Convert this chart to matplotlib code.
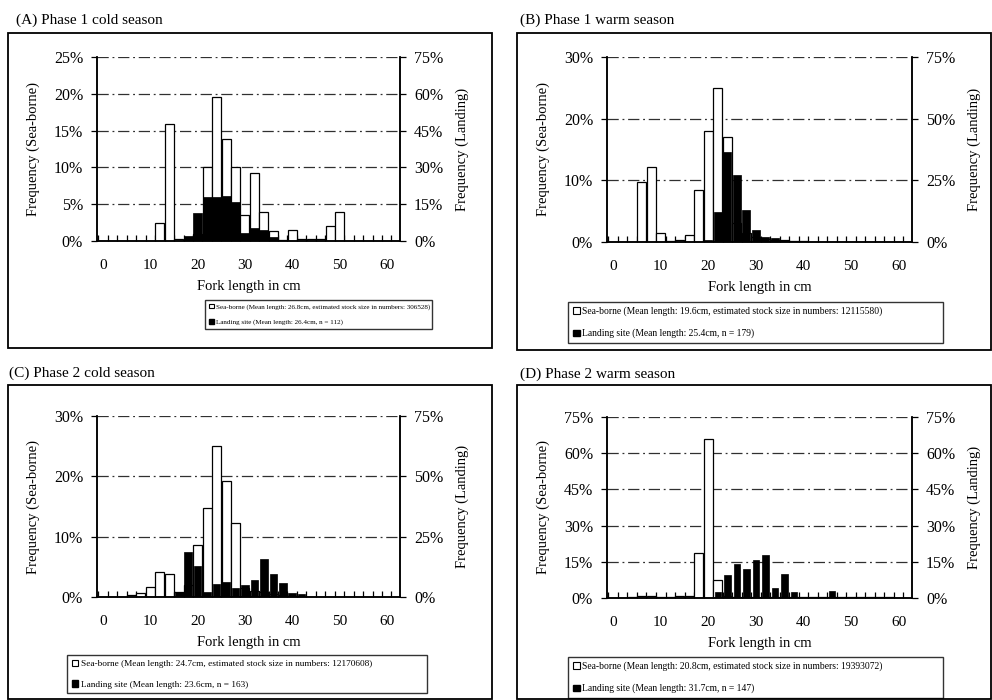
import matplotlib
matplotlib.use('Agg')
import matplotlib.pyplot as plt
from matplotlib.patches import Rectangle, Patch

plt.rcParams['font.family'] = ['Liberation Serif', 'DejaVu Serif']

# 2 cm length classes (bin centres, cm)
length_bins = [0, 2, 4, 6, 8, 10, 12, 14, 16, 18, 20, 22, 24, 26, 28, 30,
               32, 34, 36, 38, 40, 42, 44, 46, 48, 50, 52, 54, 56, 58, 60, 62]

# Frequencies in % per length class
sea_a = [0, 0, 0, 0, 0, 0, 2.4, 15.9, 0.3, 0.3, 1.0, 10.1, 19.6, 13.8, 10.0, 3.5,
         9.2, 4.0, 1.4, 0.2, 1.5, 0.3, 0.3, 0.3, 2.0, 4.0, 0, 0, 0, 0, 0, 0]
land_a = [0, 0, 0, 0, 0, 0, 0, 0, 0, 1.9, 11.3, 18.0, 18.0, 18.4, 16.0, 3.1,
          5.2, 4.6, 1.8, 0.6, 0, 0, 0, 0, 0, 0, 0, 0, 0, 0, 0, 0]

sea_b = [0, 0, 0, 9.8, 12.1, 1.4, 0.2, 0.4, 1.1, 8.5, 18.0, 24.9, 17.0, 3.0, 1.5, 0.8,
         0.5, 0.4, 0.3, 0.2, 0.1, 0, 0, 0, 0, 0, 0, 0, 0, 0, 0, 0]
land_b = [0, 0, 0, 0, 0, 0, 0, 0, 0, 0, 0.8, 12.0, 36.6, 27.0, 12.9, 4.8,
          2.0, 1.5, 0.8, 0.4, 0, 0, 0, 0, 0, 0, 0, 0, 0, 0, 0, 0]

sea_c = [0, 0, 0, 0.3, 0.6, 1.6, 4.1, 3.8, 0.8, 2.0, 8.6, 14.8, 25.1, 19.2, 12.2, 1.5,
         1.0, 0.8, 0.5, 0.3, 0.2, 0, 0, 0, 0, 0, 0, 0, 0, 0, 0, 0]
land_c = [0, 0, 0, 0, 0, 0, 0, 0, 2.2, 18.7, 12.8, 2.2, 5.5, 6.4, 3.9, 5.0,
          7.0, 15.6, 9.7, 5.9, 1.8, 1.1, 0, 0, 0, 0, 0, 0, 0, 0, 0, 0]

sea_d = [0, 0, 0.5, 0.8, 0.8, 0.5, 0.5, 0.8, 0.8, 18.7, 66.0, 7.3, 1.0, 0.5, 0.3, 0.3,
         0.3, 0.3, 0.3, 0.3, 0.5, 0.5, 0.3, 0.3, 0.3, 0.3, 0.3, 0.3, 0.3, 0.3, 0, 0]
land_d = [0, 0, 0, 0, 0, 0, 0, 0, 0, 0, 0, 2.4, 9.7, 14.1, 12.2, 15.9,
          18.0, 4.1, 9.9, 2.5, 0, 0, 0, 2.8, 0, 0, 0, 0, 0, 0, 0, 0]

titles = ['(A) Phase 1 cold season', '(B) Phase 1 warm season',
          '(C) Phase 2 cold season', '(D) Phase 2 warm season']
sea_ticks = [[0, 5, 10, 15, 20, 25], [0, 10, 20, 30], [0, 10, 20, 30], [0, 15, 30, 45, 60, 75]]
land_ticks = [[0, 15, 30, 45, 60, 75], [0, 25, 50, 75], [0, 25, 50, 75], [0, 15, 30, 45, 60, 75]]
sea_labels = [
    'Sea-borne (Mean length: 26.8cm, estimated stock size in numbers: 306528)',
    'Sea-borne (Mean length: 19.6cm, estimated stock size in numbers: 12115580)',
    'Sea-borne (Mean length: 24.7cm, estimated stock size in numbers: 12170608)',
    'Sea-borne (Mean length: 20.8cm, estimated stock size in numbers: 19393072)',
]
land_labels = [
    'Landing site (Mean length: 26.4cm, n = 112)',
    'Landing site (Mean length: 25.4cm, n = 179)',
    'Landing site (Mean length: 23.6cm, n = 163)',
    'Landing site (Mean length: 31.7cm, n = 147)',
]
sea_data = [sea_a, sea_b, sea_c, sea_d]
land_data = [land_a, land_b, land_c, land_d]

W, H = 992, 700


def fx(px):
    return px / W


def fy(py):
    return 1 - py / H


# layout in pixels: axes box, outer frame, title position, legend box, landing bar width
axes_px = [(97, 57, 400, 241), (607, 57, 912, 242), (97, 416, 400, 597), (607, 417, 912, 598)]
frame_px = [(8, 33, 492, 348), (517, 33, 991, 350), (8, 385, 492, 699), (517, 385, 991, 699)]
title_px = [(16, 20), (520, 20), (9, 373), (520, 374)]
legend_px = [(205, 300, 432, 341), (568, 302, 943, 342), (67, 655, 427, 696), (568, 657, 943, 697)]
legend_fs = [5.1, 6.9, 6.7, 6.9]
land_width = [1.95, 1.7, 1.6, 1.35]

grid_style = dict(color='#303030', lw=0.9, ls=(0, (9, 3, 1.5, 3)))

fig = plt.figure(figsize=(9.92, 7), dpi=100)

for i in range(4):
    x0, y0, x1, y1 = axes_px[i]
    ax = fig.add_axes([fx(x0), fy(y1), fx(x1 - x0), (y1 - y0) / H])
    ax2 = ax.twinx()

    ax.bar(length_bins, sea_data[i], width=1.9, color='white', edgecolor='black', lw=0.9, zorder=2)
    ax2.bar(length_bins, land_data[i], width=land_width[i], color='black', edgecolor='black', lw=0.5)

    ax.set_xlim(-1.3, 62.8)
    ax.set_ylim(0, sea_ticks[i][-1])
    ax2.set_ylim(0, land_ticks[i][-1])
    ax.set_yticks(sea_ticks[i])
    ax.set_yticklabels([f'{v}%' for v in sea_ticks[i]])
    ax2.set_yticks(land_ticks[i])
    ax2.set_yticklabels([f'{v}%' for v in land_ticks[i]])
    for v in sea_ticks[i][1:]:
        ax.axhline(v, zorder=1, **grid_style)

    ax.set_xticks([0, 10, 20, 30, 40, 50, 60])
    ax.set_xticks([b + 1 for b in length_bins[:-1]] + [-1], minor=True)
    ax.tick_params(axis='x', which='major', length=0, pad=13, labelsize=11)
    ax.tick_params(axis='x', which='minor', direction='in', length=4, width=0.9)
    ax.tick_params(axis='y', length=4, width=0.9, pad=6, labelsize=11.5)
    ax2.tick_params(axis='y', length=4, width=0.9, pad=6, labelsize=11.5)

    for a in (ax, ax2):
        a.spines['top'].set_visible(False)
        for s in ('left', 'right', 'bottom'):
            a.spines[s].set_linewidth(1.1)

    ax.set_xlabel('Fork length in cm', fontsize=10.5, labelpad=6)
    ax.set_ylabel('Frequency (Sea-borne)', fontsize=10.5, labelpad=10)
    ax2.set_ylabel('Frequency (Landing)', fontsize=10.5, labelpad=9)

    # outer frame and panel title
    fx0, fy0, fx1, fy1 = frame_px[i]
    fig.add_artist(Rectangle((fx(fx0), fy(fy1)), fx(fx1 - fx0), (fy1 - fy0) / H,
                             transform=fig.transFigure, fill=False, ec='black', lw=1.3))
    tx, ty = title_px[i]
    fig.text(fx(tx), fy(ty), titles[i], fontsize=11, ha='left', va='center')

    # legend
    lx0, ly0, lx1, ly1 = legend_px[i]
    handles = [Patch(facecolor='white', edgecolor='black', lw=0.8),
               Patch(facecolor='black', edgecolor='black')]
    leg = ax2.legend(handles, [sea_labels[i], land_labels[i]], loc='upper left',
                     bbox_to_anchor=(fx(lx0), fy(ly1), fx(lx1 - lx0), (ly1 - ly0) / H),
                     bbox_transform=fig.transFigure, mode='expand', fontsize=legend_fs[i],
                     frameon=True, fancybox=False, edgecolor='black', borderpad=0.5,
                     handlelength=0.7, handleheight=0.7, handletextpad=0.3,
                     labelspacing=1.3, borderaxespad=0)
    leg.get_frame().set_linewidth(1.0)

fig.savefig('out.png', dpi=100)
